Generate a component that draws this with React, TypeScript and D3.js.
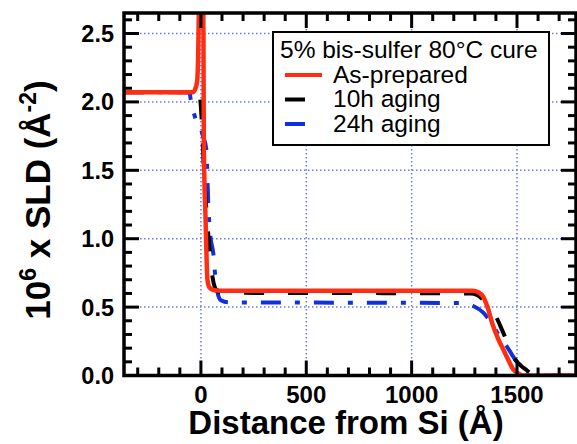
import { scaleLinear, line, curveMonotoneX, range } from "d3";

const width = 577;
const height = 444;
const margin = { top: 13, right: 1, bottom: 68.5, left: 124 };

const xDomain = [-365, 1780];
const yDomain = [0, 2.65];

const xLabelTicks = [0, 500, 1000, 1500];
const yLabelTicks = [0, 0.5, 1, 1.5, 2, 2.5];

// distance (A), SLD x 1e6
const asPrepared: [number, number][] = [
  [-365, 2.07], [-40, 2.07], [-28, 2.09], [-18, 2.15], [-13, 2.35], [-10, 2.65],
  [-5, 2.95], [2, 3.05], [9, 2.9], [12, 2.5], [14, 1.65], [22, 1.15], [31, 0.7],
  [40, 0.645], [60, 0.625], [90, 0.62], [1290, 0.62], [1315, 0.61], [1340, 0.575],
  [1360, 0.5], [1385, 0.37], [1410, 0.27], [1435, 0.19], [1460, 0.11], [1480, 0.05],
  [1505, 0.015], [1530, 0], [1780, 0],
];

const aging10h: [number, number][] = [
  [-365, 2.07], [-30, 2.07], [-18, 2.09], [-10, 2.1], [-2, 2.0], [6, 1.8], [14, 1.5],
  [22, 1.3], [31, 1.11], [45, 0.85], [55, 0.72], [65, 0.65], [80, 0.615], [110, 0.605],
  [1280, 0.6], [1310, 0.59], [1340, 0.55], [1370, 0.49], [1400, 0.43], [1430, 0.33],
  [1460, 0.22], [1490, 0.12], [1520, 0.07], [1545, 0.04], [1570, 0.01], [1590, 0],
  [1780, 0],
];

const aging24h: [number, number][] = [
  [-365, 2.07], [-55, 2.07], [-45, 1.98], [-30, 1.9], [-20, 1.85], [0, 1.8], [10, 1.75],
  [26, 1.65], [35, 1.25], [45, 1.02], [59, 0.89], [69, 0.71], [80, 0.6], [95, 0.55],
  [130, 0.535], [1240, 0.53], [1290, 0.51], [1340, 0.46], [1380, 0.38], [1420, 0.28],
  [1453, 0.21], [1485, 0.13], [1514, 0.07], [1540, 0.02], [1560, 0], [1780, 0],
];

const series = [
  { name: "24h aging", data: aging24h, color: "#1030dd", dash: "20,14,5,14" },
  { name: "10h aging", data: aging10h, color: "#000000", dash: "20,24" },
  { name: "As-prepared", data: asPrepared, color: "#ff2e12", dash: "none" },
];

const legendTitle = "5% bis-sulfer 80°C cure";
const legendOrder = ["As-prepared", "10h aging", "24h aging"];

const font = "'Liberation Sans', Arial, Helvetica, sans-serif";

const App = () => {
  const innerWidth = width - margin.left - margin.right;
  const innerHeight = height - margin.top - margin.bottom;

  const xScale = scaleLinear().domain(xDomain).range([0, innerWidth]);
  const yScale = scaleLinear().domain(yDomain).range([innerHeight, 0]);

  const lineGen = line<[number, number]>()
    .x((d) => xScale(d[0]))
    .y((d) => yScale(d[1]))
    .curve(curveMonotoneX);

  const xMinor = range(-300, 1800, 100);
  const yMinor = range(0, 27).map((i) => i / 10);

  return (
    <svg
      width={width}
      height={height}
      style={{ position: "absolute", left: 0, top: 0, background: "#fff" }}
      fontFamily={font}
    >
      <defs>
        <clipPath id="plot-clip">
          <rect x={0} y={0} width={innerWidth} height={innerHeight} />
        </clipPath>
      </defs>
      <g transform={`translate(${margin.left},${margin.top})`}>
        {/* grid */}
        {xLabelTicks.map((t) => (
          <line
            key={"gx" + t}
            x1={xScale(t)}
            x2={xScale(t)}
            y1={0}
            y2={innerHeight}
            stroke="#6a78f0"
            strokeWidth={1.5}
            strokeDasharray="1.5,2.5"
          />
        ))}
        {yLabelTicks.slice(1).map((t) => (
          <line
            key={"gy" + t}
            x1={0}
            x2={innerWidth}
            y1={yScale(t)}
            y2={yScale(t)}
            stroke="#6a78f0"
            strokeWidth={1.5}
            strokeDasharray="1.5,2.5"
          />
        ))}

        {/* curves */}
        <g clipPath="url(#plot-clip)">
          {series.map((s) => (
            <path
              key={s.name}
              d={lineGen(s.data) || ""}
              fill="none"
              stroke={s.color}
              strokeWidth={s.name === "As-prepared" ? 4.5 : 4}
              strokeDasharray={s.dash}
              strokeLinejoin="round"
            />
          ))}
        </g>

        {/* ticks, all four sides, inward */}
        {xMinor.map((t) => {
          const major = t % 500 === 0;
          const len = major ? 15 : 8;
          return (
            <g key={"tx" + t}>
              <line x1={xScale(t)} x2={xScale(t)} y1={innerHeight} y2={innerHeight - len} stroke="#000" strokeWidth={3} />
              <line x1={xScale(t)} x2={xScale(t)} y1={0} y2={len} stroke="#000" strokeWidth={3} />
            </g>
          );
        })}
        {yMinor.map((t) => {
          const major = Math.round(t * 10) % 5 === 0;
          const len = major ? 15 : 8;
          return (
            <g key={"ty" + t}>
              <line x1={0} x2={len} y1={yScale(t)} y2={yScale(t)} stroke="#000" strokeWidth={3} />
              <line x1={innerWidth} x2={innerWidth - len} y1={yScale(t)} y2={yScale(t)} stroke="#000" strokeWidth={3} />
            </g>
          );
        })}

        <rect x={0} y={0} width={innerWidth} height={innerHeight} fill="none" stroke="#000" strokeWidth={3.5} />

        {/* tick labels */}
        {xLabelTicks.map((t) => (
          <text
            key={"lx" + t}
            x={xScale(t)}
            y={innerHeight + 27}
            textAnchor="middle"
            fontSize={24}
            fontWeight="bold"
          >
            {t}
          </text>
        ))}
        {yLabelTicks.map((t) => (
          <text
            key={"ly" + t}
            x={-10}
            y={yScale(t)}
            dy="0.36em"
            textAnchor="end"
            fontSize={23.5}
            fontWeight="bold"
          >
            {t.toFixed(1)}
          </text>
        ))}

        {/* axis titles */}
        <text
          x={innerWidth / 2 - 4}
          y={innerHeight + 58}
          textAnchor="middle"
          fontSize={33}
          fontWeight="bold"
        >
          Distance from Si (Å)
        </text>
        <text
          transform={`translate(${50 - margin.left},${200 - margin.top}) rotate(-90)`}
          textAnchor="middle"
          fontSize={35}
          fontWeight="bold"
        >
          10<tspan dy={-14} fontSize={23}>6</tspan>
          <tspan dy={14}> x SLD (Å</tspan>
          <tspan dy={-14} fontSize={23}>-2</tspan>
          <tspan dy={14}>)</tspan>
        </text>
      </g>

      {/* legend */}
      <g transform="translate(273,32)">
        <rect x={0} y={0} width={276} height={113} fill="#fff" stroke="#000" strokeWidth={2} />
        <text x={7} y={26} fontSize={24.5}>
          {legendTitle}
        </text>
        {legendOrder.map((name, i) => {
          const s = series.find((d) => d.name === name)!;
          const yy = 50.5 + i * 24.5;
          return (
            <g key={name}>
              <line
                x1={12}
                x2={name === "As-prepared" ? 49 : 32}
                y1={yy - 7.5}
                y2={yy - 7.5}
                stroke={s.color}
                strokeWidth={4}
              />
              <text x={60} y={yy} fontSize={24.5}>
                {name}
              </text>
            </g>
          );
        })}
      </g>
    </svg>
  );
};

export default App;
